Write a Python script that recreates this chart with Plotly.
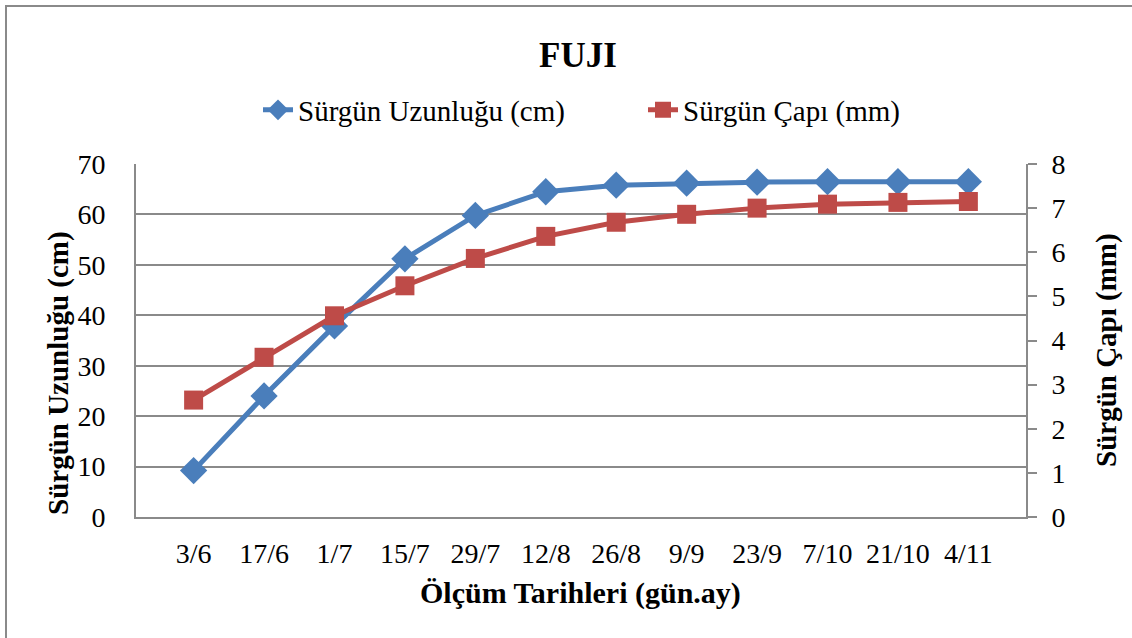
import plotly.graph_objects as go

dates = ["3/6", "17/6", "1/7", "15/7", "29/7", "12/8", "26/8", "9/9", "23/9", "7/10", "21/10", "4/11"]
length_cm = [9.2, 24.0, 37.9, 51.2, 59.8, 64.5, 65.8, 66.2, 66.4, 66.5, 66.5, 66.5]
diameter_mm = [2.65, 3.62, 4.56, 5.24, 5.86, 6.36, 6.68, 6.86, 7.00, 7.09, 7.13, 7.15]

W, H = 1132, 638
L, R, T, B = 136, 1026, 164, 517
FONT = "Liberation Serif, Times New Roman, serif"
GRID = "#8a8a8a"
TICK = dict(family=FONT, size=28, color="black")


def px(x):
    return (x - L) / (R - L)


def py(y):
    return (B - y) / (B - T)


fig = go.Figure()
fig.add_trace(go.Scatter(
    x=dates, y=length_cm, name="Sürgün Uzunluğu (cm)", mode="lines+markers",
    line=dict(color="#4A7EBB", width=5),
    marker=dict(symbol="diamond", size=21, color="#4A7EBB"),
    yaxis="y"))
fig.add_trace(go.Scatter(
    x=dates, y=diameter_mm, name="Sürgün Çapı (mm)", mode="lines+markers",
    line=dict(color="#BE4B48", width=5),
    marker=dict(symbol="square", size=19, color="#BE4B48"),
    yaxis="y2"))

fig.update_layout(
    width=W, height=H,
    margin=dict(l=L, r=W - R, t=T, b=H - B),
    paper_bgcolor="white", plot_bgcolor="white",
    font=dict(family=FONT, size=29, color="black"),
    showlegend=True,
    legend=dict(orientation="h", x=px(258), xanchor="left", y=py(110), yanchor="middle",
                font=dict(family=FONT, size=29, color="black"), itemwidth=30,
                entrywidth=340, entrywidthmode="pixels", traceorder="normal",
                bgcolor="rgba(0,0,0,0)"),
    xaxis=dict(type="category", showgrid=False, showline=True, linecolor=GRID, linewidth=2,
               ticks="", tickfont=TICK, ticklabelstandoff=10, mirror=False,
               zeroline=False),
    yaxis=dict(range=[0, 70], dtick=10, showgrid=True, gridcolor=GRID, gridwidth=2,
               showline=True, linecolor=GRID, linewidth=2, ticks="", zeroline=False,
               tickfont=TICK, ticklabelstandoff=23),
    yaxis2=dict(range=[0, 8], dtick=1, overlaying="y", side="right", showgrid=False,
                showline=True, linecolor=GRID, linewidth=2, ticks="outside", ticklen=9,
                tickcolor=GRID, tickwidth=2, zeroline=False,
                tickfont=TICK, ticklabelstandoff=9),
    shapes=[dict(type="rect", xref="paper", yref="paper",
                 x0=px(6), x1=px(1150), y0=py(660), y1=py(6),
                 line=dict(color="#8a8a8a", width=2), fillcolor="rgba(0,0,0,0)", layer="below")],
    annotations=[
        dict(text="<b>FUJI</b>", xref="paper", yref="paper", x=px(578), y=py(55),
             xanchor="center", yanchor="middle", showarrow=False,
             font=dict(family=FONT, size=35, color="black")),
        dict(text="<b>Ölçüm Tarihleri (gün.ay)</b>", xref="paper", yref="paper", x=px(580), y=py(593),
             xanchor="center", yanchor="middle", showarrow=False,
             font=dict(family=FONT, size=30, color="black")),
        dict(text="<b>Sürgün Uzunluğu (cm)</b>", xref="paper", yref="paper", x=px(58), y=py(373),
             xanchor="center", yanchor="middle", showarrow=False, textangle=-90,
             font=dict(family=FONT, size=29, color="black")),
        dict(text="<b>Sürgün Çapı (mm)</b>", xref="paper", yref="paper", x=px(1106), y=py(350),
             xanchor="center", yanchor="middle", showarrow=False, textangle=-90,
             font=dict(family=FONT, size=29, color="black")),
    ],
)

fig.write_html("out.html")
